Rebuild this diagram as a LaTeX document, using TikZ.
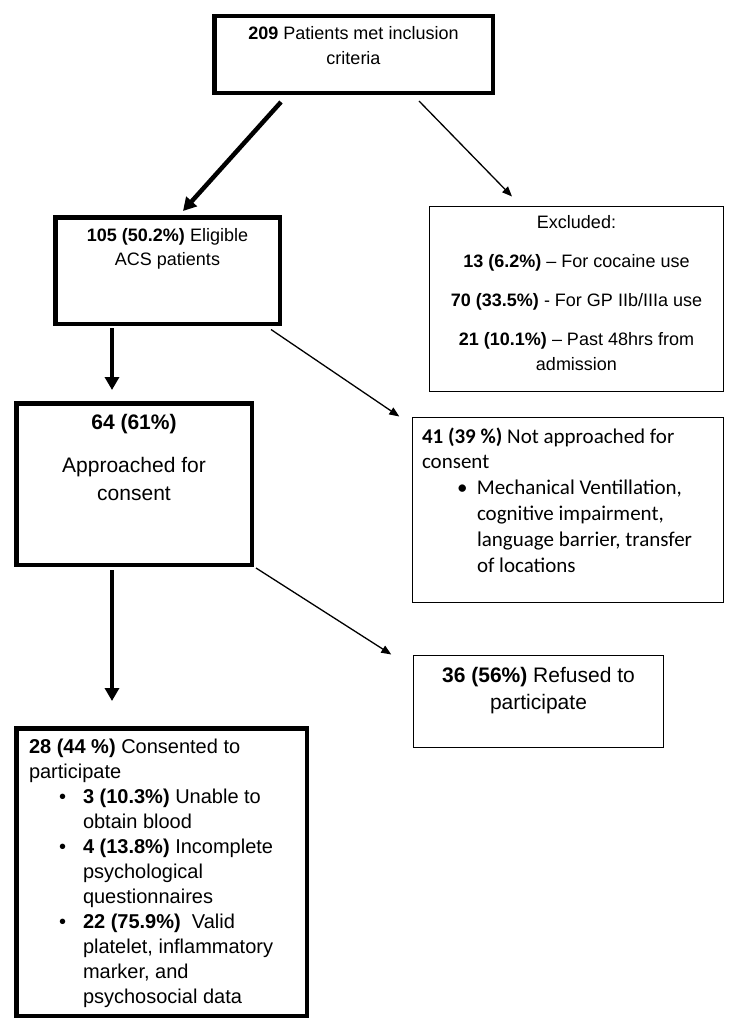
\documentclass[tikz,border=0pt]{standalone}
\usepackage{fontspec}
\setmainfont{Liberation Sans}
\newfontfamily\calibfont{Carlito}
\usetikzlibrary{arrows.meta,calc}
% text block pinned to the top of a box: width, height, top gap, text
\newcommand{\boxtext}[4]{\parbox[c][#2][t]{#1}{\vspace*{#3}#4}}
% bullet item: text indent, bullet box width
\newcommand{\bitem}[2]{\par\hangindent=#1\hangafter=0\noindent\llap{\makebox[#2][l]{\textbullet}}\ignorespaces}
\begin{document}
\begin{tikzpicture}[x=1pt,y=-1pt,
    thickbox/.style={draw,line width=4.5pt,inner sep=0pt},
    thinbox/.style={draw,line width=1.4pt,inner sep=0pt},
    bigarrow/.style={line width=4.5pt,-{Triangle[length=13pt,width=14pt]}},
    smallarrow/.style={line width=1.3pt,-{Triangle[length=10pt,width=8pt]}}]
  \useasboundingbox (0,0) rectangle (736,1033);
  % boxes
  \node[thickbox] (b1) at (353.5,54.5) {\boxtext{278.5pt}{76.5pt}{6.95pt}{\centering\fontsize{18}{24}\selectfont\strut\textbf{209} Patients met inclusion\\criteria}};
  \node[thickbox] (b2) at (167.5,270.5) {\boxtext{224.5pt}{106.5pt}{6.95pt}{\centering\fontsize{18}{24}\selectfont\strut\textbf{105 (50.2\%)} Eligible\\ACS patients}};
  \node[thinbox] (ex) at (576.5,299) {\boxtext{293.6pt}{184.6pt}{3.8pt}{\centering\fontsize{18}{25}\selectfont\strut Excluded:\\[14pt]\textbf{13 (6.2\%)} -- For cocaine use\\[14pt]\textbf{70 (33.5\%)} - For GP IIb/IIIa use\\[14pt]\textbf{21 (10.1\%)} -- Past 48hrs from\\admission}};
  \node[thickbox] (ap) at (134,484) {\boxtext{235.5pt}{161.5pt}{6.15pt}{\centering\fontsize{21}{28}\selectfont\strut\textbf{64 (61\%)}\\[15pt]Approached for\\consent}};
  \node[thinbox,inner xsep=9.3pt] (na) at (568,510) {\boxtext{292pt}{184.6pt}{7.24pt}{\raggedright\calibfont\fontsize{21}{25.8}\selectfont\strut\textbf{41 (39 \%)} Not approached for\\consent
    \bitem{55pt}{20pt}Mechanical Ventillation,\newline cognitive impairment,\newline language barrier, transfer\newline of locations}};
  \node[thinbox] (rf) at (538.5,701.5) {\boxtext{249.6pt}{91.6pt}{7.4pt}{\centering\fontsize{21}{27}\selectfont\strut\textbf{36 (56\%)} Refused to\\participate}};
  \node[thickbox,inner xsep=12.75pt] (cs) at (161.5,872) {\boxtext{265pt}{287.5pt}{7.25pt}{\raggedright\fontsize{20}{25}\selectfont\strut\textbf{28 (44 \%)} Consented to\\participate
    \bitem{54pt}{24pt}\textbf{3 (10.3\%)} Unable to\newline obtain blood
    \bitem{54pt}{24pt}\textbf{4 (13.8\%)} Incomplete\newline psychological\newline questionnaires
    \bitem{54pt}{24pt}\textbf{22 (75.9\%)}\ \ Valid\newline platelet, inflammatory\newline marker, and\newline psychosocial data}};
  % arrows
  \draw[bigarrow] ($(b1.south)+(-72.5,7)$) -- ($(b2.north)+(15.5,-4)$);
  \draw[smallarrow] ($(b1.south)+(65.5,6)$) -- ($(ex.north)+(-64.5,-9.5)$);
  \draw[bigarrow] ($(b2.south)+(-55.5,2)$) -- ($(ap.north)+(-22,-11)$);
  \draw[smallarrow] ($(b2.south)+(103.5,3.5)$) -- ($(na.north west)+(-12.7,-0.5)$);
  \draw[bigarrow] ($(ap.south)+(-22,3)$) -- ($(cs.north)+(-49.5,-25)$);
  \draw[smallarrow] ($(ap.south east)+(2,1)$) -- ($(rf.north west)+(-21.7,-0.5)$);
\end{tikzpicture}
\end{document}
